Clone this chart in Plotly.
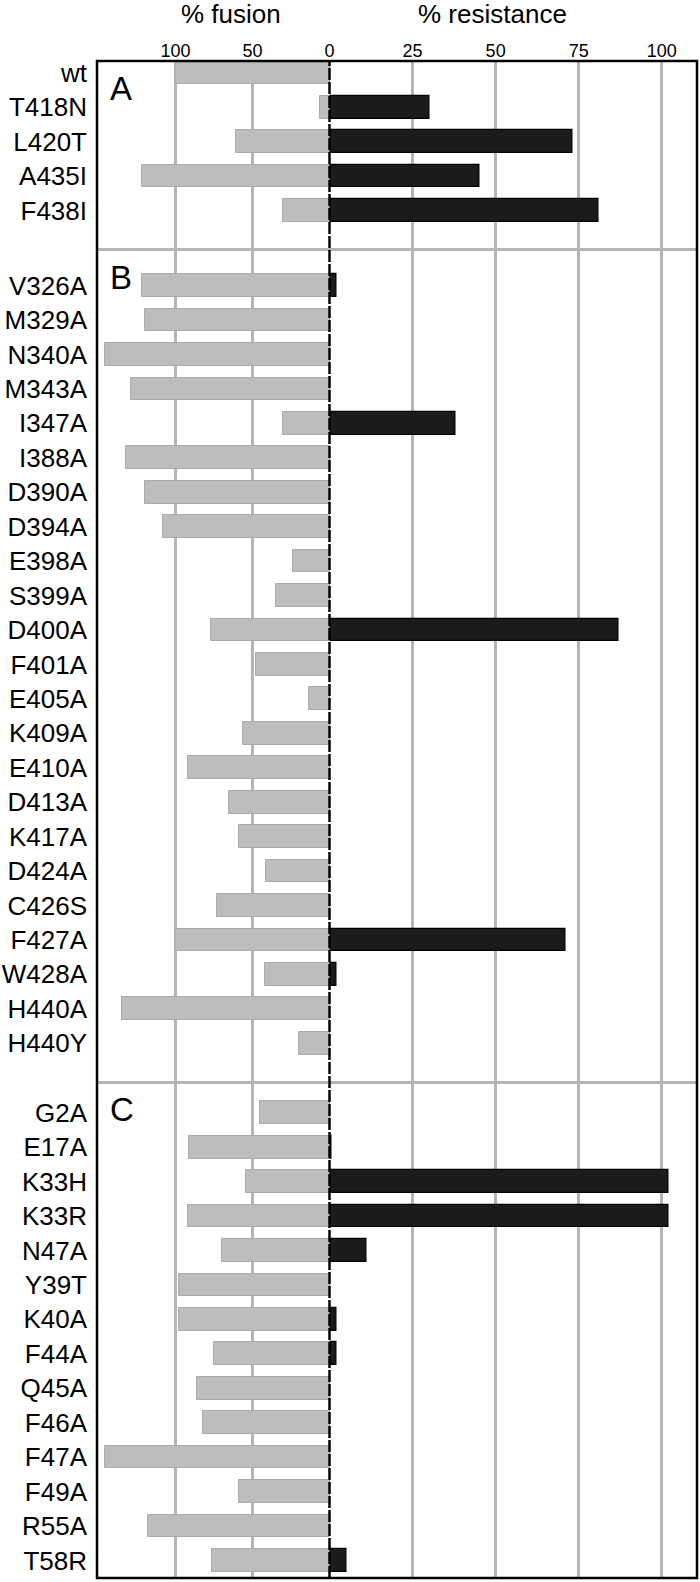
import plotly.graph_objects as go

# ---------------- data ----------------
panel_names = ["A", "B", "C"]

labels_a = ["wt", "T418N", "L420T", "A435I", "F438I"]
fusion_a = [100, 6, 61, 122, 30]
resist_a = [0, 30, 73, 45, 81]

labels_b = ["V326A", "M329A", "N340A", "M343A", "I347A", "I388A", "D390A", "D394A",
            "E398A", "S399A", "D400A", "F401A", "E405A", "K409A", "E410A", "D413A",
            "K417A", "D424A", "C426S", "F427A", "W428A", "H440A", "H440Y"]
fusion_b = [122, 120, 146, 129, 30, 132, 120, 108,
            24, 35, 77, 48, 13, 56, 92, 65,
            59, 41, 73, 100, 42, 135, 20]
resist_b = [2, 0, 0, 0, 38, 0, 0, 0,
            0, 0, 87, 0, 0, 0, 0, 0,
            0, 0, 0, 71, 2, 0, 0]

labels_c = ["G2A", "E17A", "K33H", "K33R", "N47A", "Y39T", "K40A", "F44A",
            "Q45A", "F46A", "F47A", "F49A", "R55A", "T58R"]
fusion_c = [45, 91, 54, 92, 70, 98, 98, 75, 86, 82, 146, 59, 118, 76]
resist_c = [0, 0.7, 102, 102, 11, 0, 2, 2, 0, 0, 0, 0, 0, 5]

fusion_ticks = [100, 50]
resist_ticks = [0, 25, 50, 75, 100]

# ---------------- layout helpers ----------------
panel_start = [0.0, 6.18, 30.2]
separators = [5.13, 29.32]
letter_pos = [0.45, 5.94, 30.1]

labels, fusion, resist, ypos = [], [], [], []
for start, lab, fu, re in zip(panel_start, [labels_a, labels_b, labels_c],
                              [fusion_a, fusion_b, fusion_c],
                              [resist_a, resist_b, resist_c]):
    for i, (l, f, r) in enumerate(zip(lab, fu, re)):
        labels.append(l)
        fusion.append(f)
        resist.append(r)
        ypos.append(start + i)

FONT = "Liberation Sans, Arial, sans-serif"
W, H = 700, 1582
ML, MR, MT, MB = 97, 3, 61, 4
PW = W - ML - MR
PH = H - MT - MB
split = (329.5 - ML) / PW

fig = go.Figure()
fig.add_trace(go.Bar(
    x=fusion, y=ypos, orientation="h", xaxis="x", yaxis="y",
    width=0.66, marker=dict(color="#bdbdbd", line=dict(color="#ababab", width=1)),
    showlegend=False, hoverinfo="x+y"))
fig.add_trace(go.Bar(
    x=resist, y=ypos, orientation="h", xaxis="x2", yaxis="y",
    width=0.66, marker=dict(color="#1b1b1b", line=dict(color="#000000", width=1.2)),
    showlegend=False, hoverinfo="x+y"))

shapes = []
for s in separators:
    shapes.append(dict(type="line", xref="paper", yref="y", x0=0, x1=1, y0=s, y1=s,
                       line=dict(color="#b5b5b5", width=3), layer="above"))
# zero line
shapes.append(dict(type="line", xref="paper", yref="paper", x0=split, x1=split, y0=0, y1=1,
                   line=dict(color="#000000", width=2.5, dash="12px,2px"), layer="above"))
# frame
shapes.append(dict(type="rect", xref="paper", yref="paper", x0=0, x1=1, y0=0, y1=1,
                   line=dict(color="#000000", width=2.5), layer="above"))

annotations = []
for name, yp in zip(panel_names, letter_pos):
    annotations.append(dict(text=name, xref="paper", yref="y", x=(108 - ML) / PW,
                            y=yp, xanchor="left", yanchor="middle", showarrow=False,
                            font=dict(family=FONT, size=33, color="#000")))
title_y = 1 + (MT - 14) / PH
annotations.append(dict(text="% fusion", xref="paper", yref="paper",
                        x=(230.5 - ML) / PW, y=title_y, xanchor="center",
                        yanchor="middle", showarrow=False,
                        font=dict(family=FONT, size=26, color="#000")))
annotations.append(dict(text="% resistance", xref="paper", yref="paper",
                        x=(492.5 - ML) / PW, y=title_y, xanchor="center",
                        yanchor="middle", showarrow=False,
                        font=dict(family=FONT, size=26, color="#000")))

fig.update_layout(
    width=W, height=H,
    margin=dict(l=ML, r=MR, t=MT, b=MB, pad=0, autoexpand=False),
    paper_bgcolor="white", plot_bgcolor="white",
    barmode="overlay", bargap=0,
    font=dict(family=FONT, color="#000"),
    xaxis=dict(domain=[0, split], range=[151, 0], side="top", anchor="y",
               tickvals=fusion_ticks, ticktext=[str(v) for v in fusion_ticks],
               showgrid=True, gridcolor="#b5b5b5", gridwidth=2.5,
               zeroline=False, showline=False, ticks="", automargin=False,
               ticklabelstandoff=-1,
               tickfont=dict(family=FONT, size=18, color="#000")),
    xaxis2=dict(domain=[split, 1], range=[0, 110.6], side="top", anchor="y",
                tickvals=resist_ticks, ticktext=[str(v) for v in resist_ticks],
                showgrid=True, gridcolor="#b5b5b5", gridwidth=2.5,
                zeroline=False, showline=False, ticks="", automargin=False,
                ticklabelstandoff=-1,
                tickfont=dict(family=FONT, size=18, color="#000")),
    yaxis=dict(range=[43.71, -0.343], tickvals=ypos, ticktext=labels,
               showgrid=False, zeroline=False, showline=False, ticks="",
               automargin=False, ticklabelstandoff=9,
               tickfont=dict(family=FONT, size=26, color="#000")),
    shapes=shapes,
    annotations=annotations,
)

fig.write_html("out.html", config={"displayModeBar": False},
               post_script="document.body.style.margin='0';document.body.style.overflow='hidden';")
